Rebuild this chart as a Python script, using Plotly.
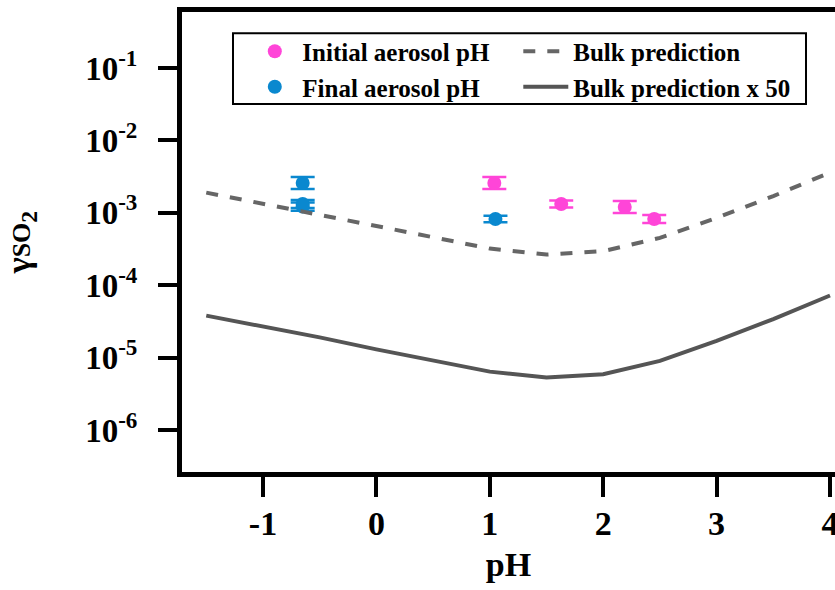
import plotly.graph_objects as go

# ---- data ----
ph_grid = [-1.5, -1.0, -0.5, 0.0, 0.5, 1.0, 1.5, 2.0, 2.5, 3.0, 3.5, 4.0]
bulk_pred = [1.9e-3, 1.34e-3, 9.4e-4, 6.6e-4, 4.6e-4, 3.2e-4, 2.65e-4, 2.95e-4, 4.5e-4, 8.5e-4, 1.7e-3, 3.6e-3]
bulk_pred_x50 = [3.8e-5, 2.7e-5, 1.9e-5, 1.3e-5, 9.2e-6, 6.4e-6, 5.3e-6, 5.9e-6, 9.0e-6, 1.7e-5, 3.4e-5, 7.2e-5]

initial_ph = [1.04, 1.63, 2.19, 2.45]
initial_gamma = [2.58e-3, 1.32e-3, 1.2e-3, 8.2e-4]
initial_err_plus = [5.5e-4, 1.6e-4, 2.6e-4, 1.1e-4]
initial_err_minus = [4.5e-4, 1.4e-4, 2.1e-4, 0.95e-4]

final_ph = [-0.65, -0.65, -0.65, 1.05]
final_gamma = [2.58e-3, 1.32e-3, 1.22e-3, 8.2e-4]
final_err_plus = [5.5e-4, 1.8e-4, 1.7e-4, 0.9e-4]
final_err_minus = [4.5e-4, 1.6e-4, 1.5e-4, 0.8e-4]

y_tickvals = [1e-1, 1e-2, 1e-3, 1e-4, 1e-5, 1e-6]
y_ticktext = ["10<sup>-1</sup>", "10<sup>-2</sup>", "10<sup>-3</sup>",
              "10<sup>-4</sup>", "10<sup>-5</sup>", "10<sup>-6</sup>"]
x_tickvals = [-1, 0, 1, 2, 3, 4]
x_ticktext = ["-1", "0", "1", "2", "3", "4"]

PINK = "#FF45D8"
BLUE = "#0A88CF"
GRAY = "#555555"
FONT = "Liberation Serif"

fig = go.Figure()

fig.add_trace(go.Scatter(
    x=initial_ph, y=initial_gamma, mode="markers", name="Initial aerosol pH",
    marker=dict(color=PINK, size=14), legend="legend",
    error_y=dict(type="data", array=initial_err_plus, arrayminus=initial_err_minus,
                 color=PINK, thickness=2.5, width=12),
))
fig.add_trace(go.Scatter(
    x=final_ph, y=final_gamma, mode="markers", name="Final aerosol pH",
    marker=dict(color=BLUE, size=14), legend="legend",
    error_y=dict(type="data", array=final_err_plus, arrayminus=final_err_minus,
                 color=BLUE, thickness=2.5, width=12),
))
fig.add_trace(go.Scatter(
    x=ph_grid, y=bulk_pred, mode="lines", name="Bulk prediction", legend="legend2",
    line=dict(color="#666666", width=4, dash="dash"),
))
fig.add_trace(go.Scatter(
    x=ph_grid, y=bulk_pred_x50, mode="lines", name="Bulk prediction x 50", legend="legend2",
    line=dict(color=GRAY, width=4),
))

legend_font = dict(family=FONT, size=25, color="black", weight="bold")

fig.update_layout(
    width=835, height=590,
    margin=dict(l=182, r=0, t=12, b=118),
    plot_bgcolor="white", paper_bgcolor="white",
    font=dict(family=FONT, color="black"),
    showlegend=True,
    legend=dict(
        x=0.10, y=0.964, xanchor="left", yanchor="top",
        bgcolor="rgba(0,0,0,0)", borderwidth=0, itemwidth=45,
        font=legend_font, tracegroupgap=0,
    ),
    legend2=dict(
        x=0.515, y=0.964, xanchor="left", yanchor="top",
        bgcolor="rgba(0,0,0,0)", borderwidth=0, itemwidth=45,
        font=legend_font, tracegroupgap=0,
    ),
    shapes=[dict(type="rect", xref="paper", yref="paper",
                 x0=0.0781, x1=0.9556, y0=0.80, y1=0.954,
                 line=dict(color="black", width=2), layer="below")],
    xaxis=dict(
        range=[-1.714, 4.044], tickvals=x_tickvals, ticktext=x_ticktext,
        showline=True, linecolor="black", linewidth=5, mirror=True,
        ticks="outside", ticklen=20, tickwidth=4, tickcolor="black",
        showgrid=False, zeroline=False, automargin=False,
        ticklabelstandoff=-3, ticklabeloverflow="allow",
        tickfont=dict(family=FONT, size=34, color="black", weight="bold"),
        title=dict(text="pH", font=dict(family=FONT, size=34, color="black", weight="bold"), standoff=13),
    ),
    yaxis=dict(
        type="log", range=[-6.58, -0.227],
        tickvals=y_tickvals, ticktext=y_ticktext,
        showline=True, linecolor="black", linewidth=5, mirror=False,
        ticks="outside", ticklen=19, tickwidth=4, tickcolor="black",
        showgrid=False, zeroline=False, automargin=False,
        ticklabelstandoff=14,
        tickfont=dict(family=FONT, size=33, color="black", weight="bold"),
        title=dict(text="γ<span style='font-size:26px'>SO</span><sub>2</sub>",
                   font=dict(family=FONT, size=34, color="black", weight="bold"), standoff=46),
    ),
)

fig.write_html("out.html", config={"displayModeBar": False},
               post_script="document.body.style.margin='0';document.body.style.overflow='hidden';")
